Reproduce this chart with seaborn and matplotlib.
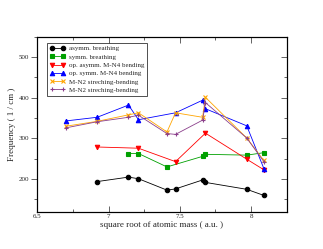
import matplotlib
matplotlib.use("Agg")
import matplotlib.pyplot as plt
import seaborn as sns
import numpy as np
from matplotlib.ticker import MultipleLocator

# ---- data ----
labels = ["asymm. breathing", "symm. breathing", "op. asymm. M-N4 bending",
          "op. symm. M-N4 bending", "M-N2 streching-bending", "M-N2 streching-bending"]

x_black = [6.92, 7.14, 7.21, 7.41, 7.47, 7.66, 7.68, 7.97, 8.09]
y_black = [194, 205, 201, 173, 176, 198, 192, 175, 160]

x_green = [7.14, 7.21, 7.41, 7.66, 7.68, 7.97, 8.09]
y_green = [263, 263, 230, 256, 261, 259, 265]

x_red = [6.92, 7.21, 7.47, 7.68, 7.97, 8.09]
y_red = [279, 276, 243, 313, 249, 223]

x_blue = [6.70, 6.92, 7.14, 7.21, 7.47, 7.66, 7.68, 7.97, 8.09]
y_blue = [343, 352, 382, 346, 363, 394, 373, 331, 226]

x_orange = [6.70, 6.92, 7.14, 7.21, 7.41, 7.47, 7.66, 7.68, 7.97, 8.09]
y_orange = [330, 342, 358, 363, 316, 363, 352, 401, 301, 246]

x_purple = [6.70, 6.92, 7.14, 7.21, 7.41, 7.47, 7.66, 7.68, 7.97, 8.09]
y_purple = [326, 341, 352, 357, 312, 310, 345, 388, 301, 243]

series = [
    (x_black, y_black, "#000000", "o"),
    (x_green, y_green, "#00a000", "s"),
    (x_red, y_red, "#ff0000", "v"),
    (x_blue, y_blue, "#0000ff", "^"),
    (x_orange, y_orange, "#ffa500", "x"),
    (x_purple, y_purple, "#8b3f8b", "+"),
]

sns.set_style("ticks")
plt.rcParams["font.family"] = ["Liberation Serif", "DejaVu Serif"]

fig = plt.figure(figsize=(3.23, 2.49), dpi=100)
ax = fig.add_axes([0.1155, 0.1498, 0.772, 0.7028])

for (xs, ys, c, m), lab in zip(series, labels):
    sns.lineplot(x=xs, y=ys, ax=ax, color=c, marker=m, markersize=3.2,
                 markeredgecolor=c, markeredgewidth=0.8, linewidth=0.6,
                 label=lab, sort=False)

ax.set_xlim(6.5, 8.25)
ax.set_ylim(120, 550)
ax.xaxis.set_major_locator(MultipleLocator(0.5))
ax.xaxis.set_minor_locator(MultipleLocator(0.25))
ax.yaxis.set_major_locator(MultipleLocator(100))
ax.yaxis.set_minor_locator(MultipleLocator(50))
ax.set_xticks([6.5, 7, 7.5, 8])
ax.set_xticklabels(["6.5", "7", "7.5", "8"])

ax.tick_params(axis="x", which="both", direction="in", top=True, bottom=True,
               labelsize=5, pad=2, width=0.5)
ax.tick_params(axis="x", which="major", length=4)
ax.tick_params(axis="x", which="minor", length=2)
ax.tick_params(axis="y", which="both", direction="out", left=True, right=False,
               labelsize=5, pad=2, width=0.5)
ax.tick_params(axis="y", which="major", length=4)
ax.tick_params(axis="y", which="minor", length=2)

ax2 = ax.twinx()
ax2.set_ylim(ax.get_ylim())
ax2.yaxis.set_major_locator(MultipleLocator(100))
ax2.yaxis.set_minor_locator(MultipleLocator(50))
ax2.tick_params(axis="y", which="both", direction="in", labelright=False, width=0.5)
ax2.tick_params(axis="y", which="major", length=4)
ax2.tick_params(axis="y", which="minor", length=2)

for a in (ax, ax2):
    for s in a.spines.values():
        s.set_linewidth(0.8)
        s.set_color("black")

ax.set_xlabel("square root of atomic mass ( a.u. )", fontsize=6.5, labelpad=1)
ax.set_ylabel("Frequency ( 1 / cm )", fontsize=6.5, labelpad=2)

leg = ax.legend(loc="upper left", bbox_to_anchor=(0.04, 0.965), fontsize=5,
                frameon=True, fancybox=False, edgecolor="black", numpoints=2,
                handlelength=2.2, handletextpad=0.5, borderpad=0.4,
                labelspacing=0.35, borderaxespad=0)
leg.get_frame().set_linewidth(0.6)

fig.savefig("out.png", dpi=100)
